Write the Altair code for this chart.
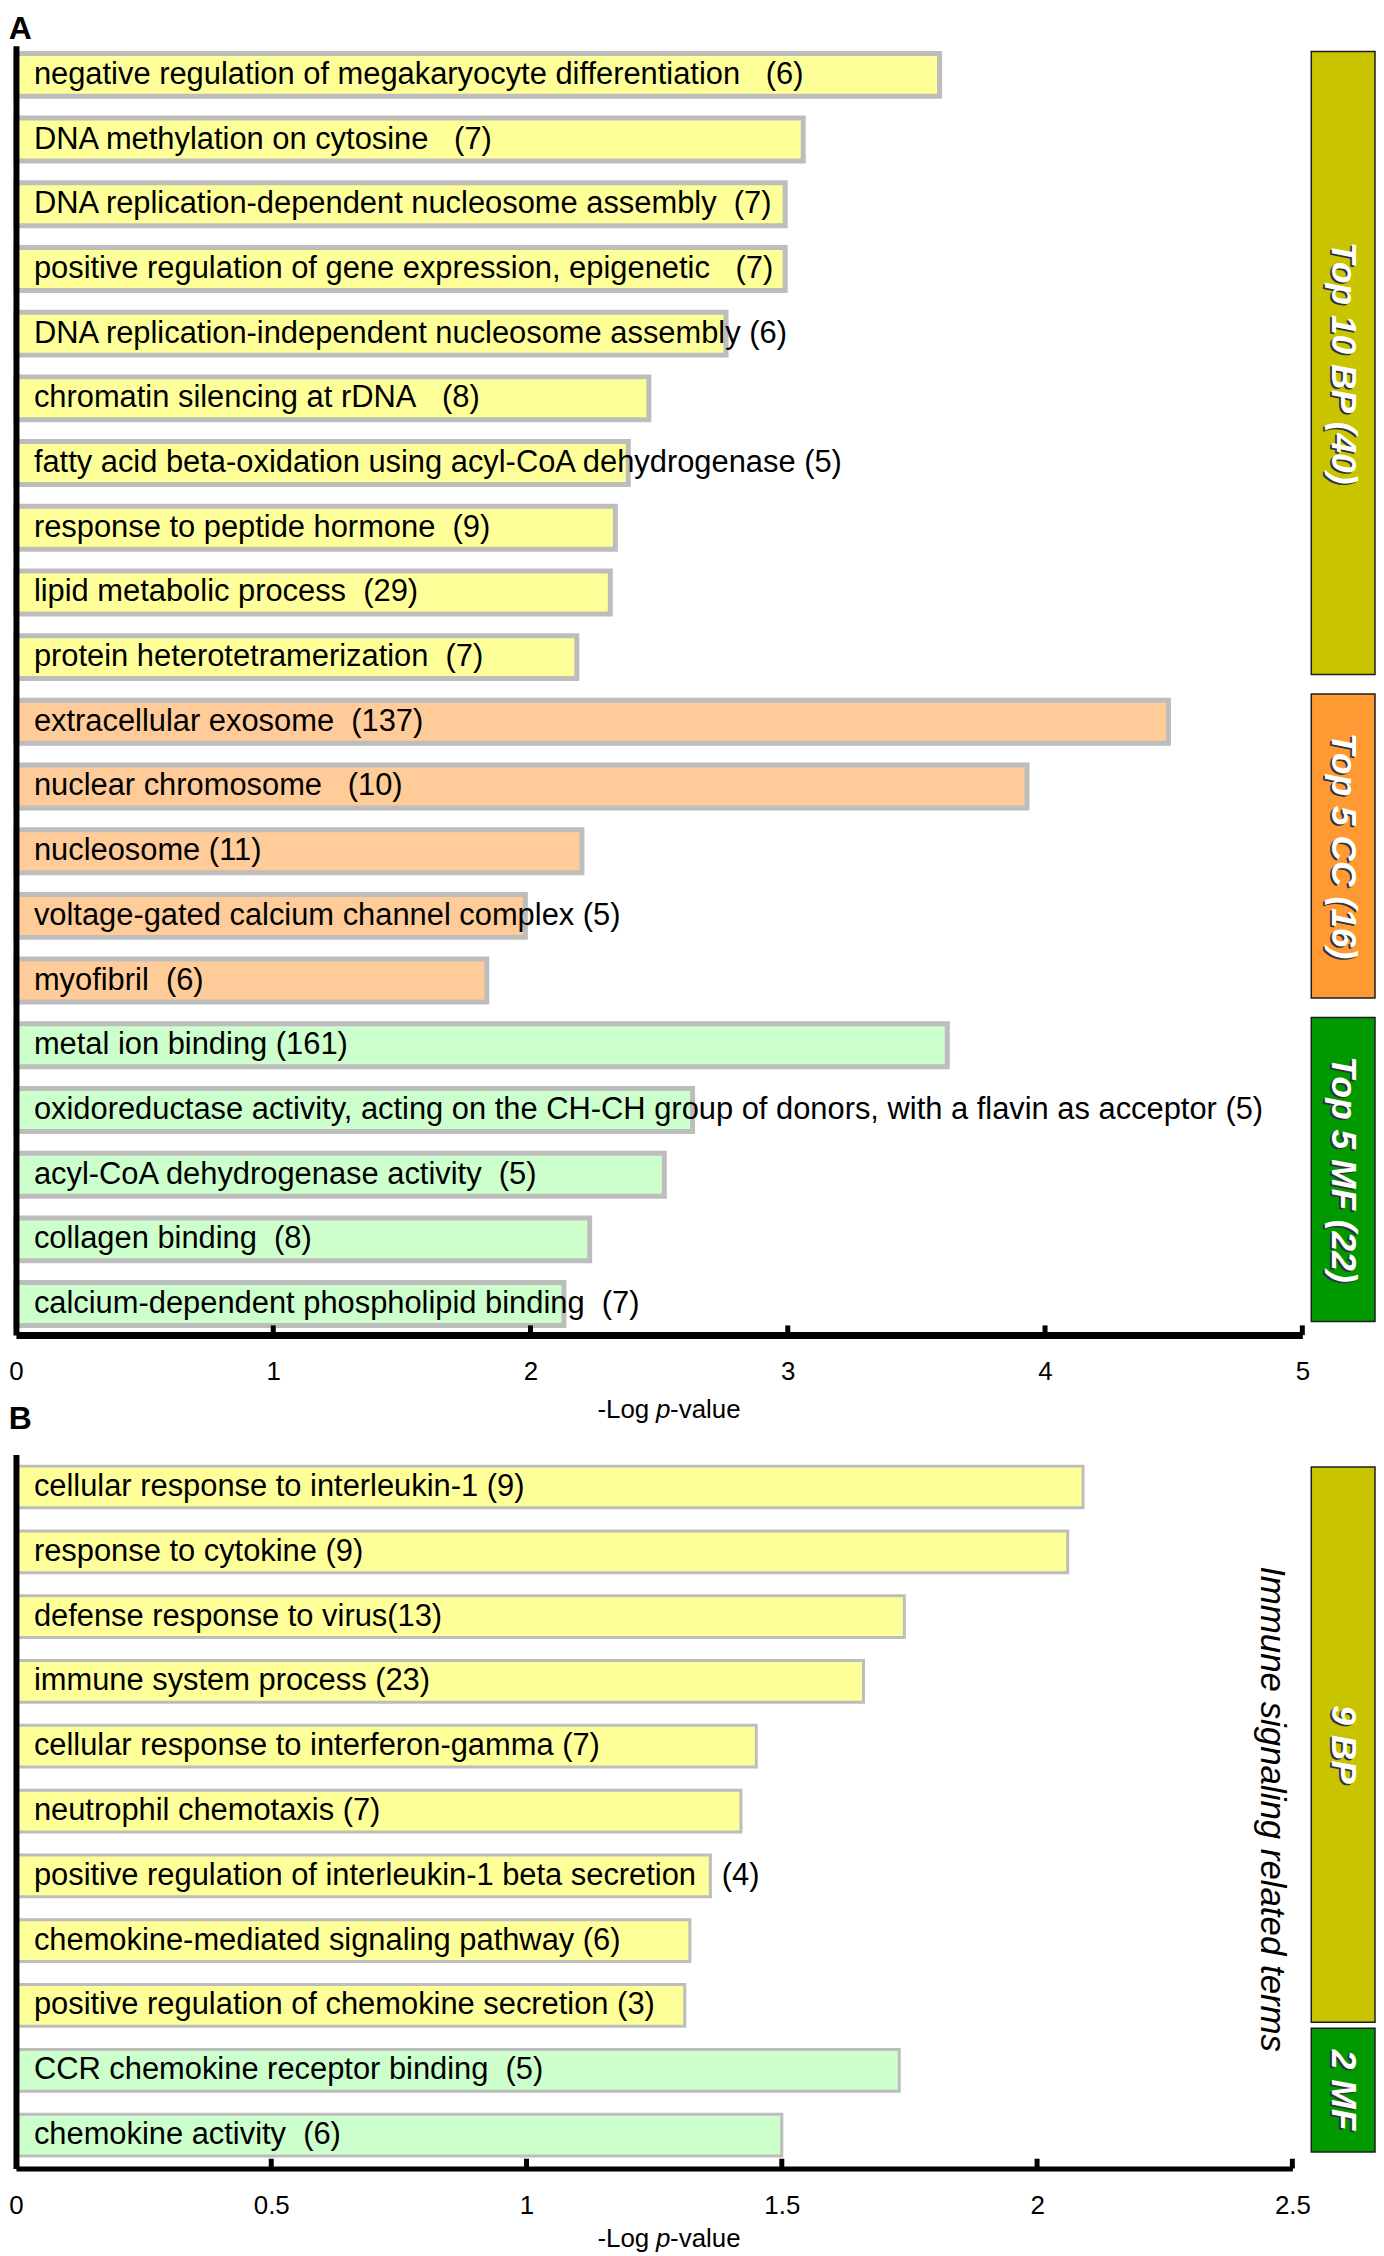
import altair as alt
import pandas as pd

FONT = "Liberation Sans"

# ---------------- Panel A data ----------------
a_terms = [
    "negative regulation of megakaryocyte differentiation",
    "DNA methylation on cytosine",
    "DNA replication-dependent nucleosome assembly",
    "positive regulation of gene expression, epigenetic",
    "DNA replication-independent nucleosome assembly",
    "chromatin silencing at rDNA",
    "fatty acid beta-oxidation using acyl-CoA dehydrogenase",
    "response to peptide hormone",
    "lipid metabolic process",
    "protein heterotetramerization",
    "extracellular exosome",
    "nuclear chromosome",
    "nucleosome",
    "voltage-gated calcium channel complex",
    "myofibril",
    "metal ion binding",
    "oxidoreductase activity, acting on the CH-CH group of donors, with a flavin as acceptor",
    "acyl-CoA dehydrogenase activity",
    "collagen binding",
    "calcium-dependent phospholipid binding",
]
a_counts = [6, 7, 7, 7, 6, 8, 5, 9, 29, 7, 137, 10, 11, 5, 6, 161, 5, 5, 8, 7]
a_gaps = [3, 3, 2, 3, 1, 3, 1, 2, 2, 2, 2, 3, 1, 1, 2, 1, 1, 2, 2, 2]
a_values = [3.59, 3.06, 2.99, 2.99, 2.76, 2.46, 2.38, 2.33, 2.31, 2.18,
            4.48, 3.93, 2.20, 1.98, 1.83,
            3.62, 2.63, 2.52, 2.23, 2.13]
a_cats = ["BP"] * 10 + ["CC"] * 5 + ["MF"] * 5
a_group_labels = ["Top 10 BP (40)", "Top 5 CC (16)", "Top 5 MF (22)"]
a_group_cats = ["BP", "CC", "MF"]
a_group_sizes = [10, 5, 5]
a_ticks = [0, 1, 2, 3, 4, 5]

# ---------------- Panel B data ----------------
b_terms = [
    "cellular response to interleukin-1",
    "response to cytokine",
    "defense response to virus",
    "immune system process",
    "cellular response to interferon-gamma",
    "neutrophil chemotaxis",
    "positive regulation of interleukin-1 beta secretion",
    "chemokine-mediated signaling pathway",
    "positive regulation of chemokine secretion",
    "CCR chemokine receptor binding",
    "chemokine activity",
]
b_counts = [9, 9, 13, 23, 7, 7, 4, 6, 3, 5, 6]
b_gaps = [1, 1, 0, 1, 1, 1, 3, 1, 1, 2, 2]
b_values = [2.09, 2.06, 1.74, 1.66, 1.45, 1.42, 1.36, 1.32, 1.31, 1.73, 1.50]
b_cats = ["BP"] * 9 + ["MF"] * 2
b_group_labels = ["9 BP", "2 MF"]
b_group_cats = ["BP", "MF"]
b_group_sizes = [9, 2]
b_ticks = [0, 0.5, 1, 1.5, 2, 2.5]
b_side_note = "Immune signaling related terms"

BAR_FILL = {"BP": "#FFFF99", "CC": "#FFCC99", "MF": "#CCFFCC"}
BOX_FILL = {"BP": "#C8C400", "CC": "#FF9933", "MF": "#009900"}

LABEL_SIZE = 31
TICK_SIZE = 26
BOX_TEXT_SIZE = 35.5


def build_panel(letter, terms, counts, gaps, values, cats, glabels, gcats, gsizes,
                ticks, fmt, xmax, width, height, ylo, yhi, half, stroke_w,
                domain_w, label_pad, title_off, letter_off, box_pad_top, box_pad_bot,
                box_gap, note=None, note_pos=None):
    n = len(terms)
    df = pd.DataFrame({
        "term": terms,
        "value": values,
        "cat": cats,
        "row": list(range(n)),
    })
    df["label"] = [t + ("\u00a0" * g) + f"({c})" for t, g, c in zip(terms, gaps, counts)]
    df["y0"] = df["row"] - half
    df["y1"] = df["row"] + half

    yscale = alt.Scale(domain=[ylo, yhi], reverse=True, nice=False, zero=False)
    xscale = alt.Scale(domain=[0, xmax], nice=False, zero=True)

    bars = alt.Chart(df).mark_rect(stroke="#BDBDBD", strokeWidth=stroke_w).encode(
        x=alt.X("value:Q", scale=xscale,
                axis=alt.Axis(values=ticks, format=fmt, title=None, ticks=False,
                              tickSize=0, labelFontSize=TICK_SIZE, labelFont=FONT,
                              labelColor="black", labelPadding=label_pad,
                              domainColor="black", domainWidth=domain_w,
                              grid=False, labelFlush=False, zindex=1)),
        x2=alt.datum(0),
        y=alt.Y("y0:Q", scale=yscale,
                axis=alt.Axis(labels=False, ticks=False, title=None,
                              domainColor="black", domainWidth=6, grid=False,
                              zindex=1)),
        y2="y1:Q",
        fill=alt.Fill("cat:N",
                      scale=alt.Scale(domain=list(BAR_FILL.keys()),
                                      range=list(BAR_FILL.values())),
                      legend=None),
    )

    tick_df = pd.DataFrame({"t": ticks[1:]})
    tick_rules = alt.Chart(tick_df).mark_rule(color="black", strokeWidth=5).encode(
        x="t:Q",
        y=alt.datum(yhi),
        y2=alt.datum(yhi - 0.15),
    )

    labels = alt.Chart(df).mark_text(
        align="left", baseline="middle", dx=18, fontSize=LABEL_SIZE, font=FONT,
        color="black"
    ).encode(x=alt.datum(0), y="row:Q", text="label:N")

    # axis title "-Log p-value" with italic p
    ty = height + title_off
    tx = 650
    t1 = alt.Chart(pd.DataFrame({"s": ["-Log"]})).mark_text(
        align="right", baseline="middle", fontSize=TICK_SIZE, font=FONT,
        color="black", dx=-14
    ).encode(x=alt.value(tx), y=alt.value(ty), text="s:N")
    t2 = alt.Chart(pd.DataFrame({"s": ["p"]})).mark_text(
        align="center", baseline="middle", fontSize=TICK_SIZE, font=FONT,
        color="black", fontStyle="italic"
    ).encode(x=alt.value(tx), y=alt.value(ty), text="s:N")
    t3 = alt.Chart(pd.DataFrame({"s": ["-value"]})).mark_text(
        align="left", baseline="middle", fontSize=TICK_SIZE, font=FONT,
        color="black", dx=7
    ).encode(x=alt.value(tx), y=alt.value(ty), text="s:N")

    layers = [bars, labels, tick_rules, t1, t2, t3]
    if note is not None:
        note_layer = alt.Chart(pd.DataFrame({"s": [note]})).mark_text(
            align="center", baseline="middle", fontSize=35, font=FONT,
            fontStyle="italic", color="black", angle=90
        ).encode(x=alt.datum(note_pos[0]), y=alt.datum(note_pos[1]), text="s:N")
        layers.append(note_layer)

    plot = alt.layer(*layers).properties(
        width=width, height=height,
        title=alt.TitleParams(letter, anchor="start", fontSize=32, fontWeight="bold",
                              font=FONT, color="black", offset=letter_off, dx=0),
    )

    # side category boxes
    starts, ends = [], []
    first = 0
    prev_end = None
    for s in gsizes:
        last = first + s - 1
        st = first - box_pad_top if prev_end is None else prev_end + box_gap
        en = last + box_pad_bot
        starts.append(st)
        ends.append(en)
        prev_end = en
        first = last + 1
    gdf = pd.DataFrame({"label": glabels, "cat": gcats, "start": starts, "end": ends})
    gdf["mid"] = (gdf["start"] + gdf["end"]) / 2

    box_x = alt.Scale(domain=[0, 1])
    boxes = alt.Chart(gdf).mark_rect(stroke="#1E1E1E", strokeWidth=1.5).encode(
        x=alt.X(datum=0, scale=box_x, axis=None),
        x2=alt.datum(1),
        y=alt.Y("start:Q", scale=yscale, axis=None),
        y2="end:Q",
        fill=alt.Fill("cat:N",
                      scale=alt.Scale(domain=list(BOX_FILL.keys()),
                                      range=list(BOX_FILL.values())),
                      legend=None),
    )
    shadow = alt.Chart(gdf).mark_text(
        angle=90, fontSize=BOX_TEXT_SIZE, fontWeight="bold", fontStyle="italic",
        font=FONT, color="#333333", align="center", baseline="middle", dx=1.5, dy=2.5
    ).encode(x=alt.X(datum=0.5, scale=box_x, axis=None),
             y=alt.Y("mid:Q", scale=yscale, axis=None), text="label:N")
    txt = alt.Chart(gdf).mark_text(
        angle=90, fontSize=BOX_TEXT_SIZE, fontWeight="bold", fontStyle="italic",
        font=FONT, color="white", align="center", baseline="middle"
    ).encode(x=alt.X(datum=0.5, scale=box_x, axis=None),
             y=alt.Y("mid:Q", scale=yscale, axis=None), text="label:N")
    side = alt.layer(boxes, shadow, txt).properties(width=64, height=height)
    return plot, side


plot_a, side_a = build_panel(
    "A", a_terms, a_counts, a_gaps, a_values, a_cats, a_group_labels, a_group_cats,
    a_group_sizes, a_ticks, "d", 5, 1292, 1295, -0.45, 19.48, 0.332, 5, 7, 24, 75, 0,
    0.36, 0.27, 0.3,
)
plot_b, side_b = build_panel(
    "B", b_terms, b_counts, b_gaps, b_values, b_cats, b_group_labels, b_group_cats,
    b_group_sizes, b_ticks, "~g", 2.5, 1282, 717, -0.5, 10.515, 0.322, 3, 5, 24, 71, 19,
    0.31, 0.26, 0.09, note=b_side_note, note_pos=(2.46, 4.97),
)

chart = alt.concat(
    plot_a, side_a, plot_b, side_b,
    columns=2, spacing={"row": 120, "column": 9}, bounds="flush",
).resolve_scale(
    x="independent", y="independent", fill="independent"
).properties(
    padding={"left": 0, "top": 0, "right": 0, "bottom": 0}, background="white"
).configure_view(stroke=None)

chart.save("out.html", embed_options={"renderer": "svg", "actions": False})
